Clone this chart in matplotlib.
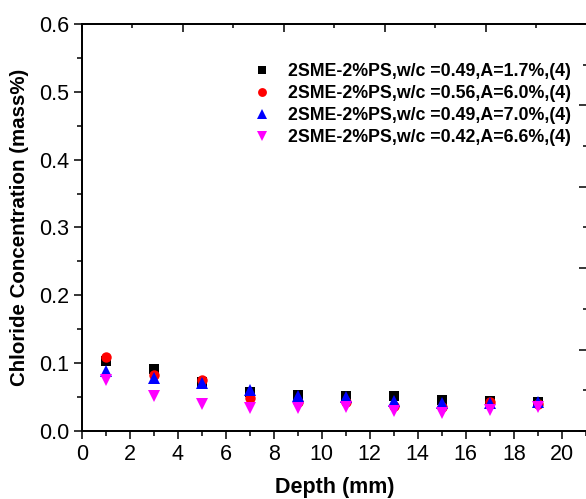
import matplotlib
matplotlib.use("Agg")
import matplotlib.pyplot as plt
from matplotlib.ticker import MultipleLocator, NullFormatter

plt.rcParams['font.family'] = ['Liberation Sans', 'DejaVu Sans']

depth = [1, 3, 5, 7, 9, 11, 13, 15, 17, 19]
s1 = [0.103, 0.092, 0.072, 0.057, 0.053, 0.051, 0.051, 0.046, 0.044, 0.043]
s2 = [0.109, 0.083, 0.075, 0.049, 0.043, 0.043, 0.037, 0.036, 0.043, 0.040]
s3 = [0.089, 0.078, 0.071, 0.060, 0.052, 0.050, 0.044, 0.041, 0.042, 0.043]
s4 = [0.075, 0.052, 0.040, 0.034, 0.034, 0.036, 0.030, 0.027, 0.031, 0.035]
labels = ["2SME-2%PS,w/c =0.49,A=1.7%,(4)",
          "2SME-2%PS,w/c =0.56,A=6.0%,(4)",
          "2SME-2%PS,w/c =0.49,A=7.0%,(4)",
          "2SME-2%PS,w/c =0.42,A=6.6%,(4)"]
series = [s1, s2, s3, s4]
markers = ['s', 'o', '^', 'v']
colors = ['#000000', '#ff0000', '#0000ff', '#ff00ff']
sizes = [7.5, 7.5, 8.5, 8.5]

W, H = 586, 499
fig = plt.figure(figsize=(W / 100, H / 100), dpi=100)
left, right, bottom, top = 81.7, 587.0, 431.0, 24.0
ax = fig.add_axes([left / W, (H - bottom) / H, (right - left) / W, (bottom - top) / H])

for ys, m, c, ms, lab in zip(series, markers, colors, sizes, labels):
    ax.plot(depth, ys, linestyle='none', marker=m, color=c, markersize=ms,
            markeredgewidth=0, label=lab)

ax.set_xlim(0, 21.05)
ax.set_ylim(0, 0.6)
ax.xaxis.set_major_locator(MultipleLocator(2))
ax.xaxis.set_minor_locator(MultipleLocator(1))
ax.yaxis.set_major_locator(MultipleLocator(0.1))
ax.yaxis.set_minor_locator(MultipleLocator(0.05))
ax.yaxis.set_major_formatter(plt.FuncFormatter(lambda v, p: f"{v:.1f}"))
ax.tick_params(which='major', direction='out', length=6, width=1.1, labelsize=15.5, pad=3)
ax.tick_params(which='minor', direction='out', length=3.5, width=1.1)
ax.tick_params(top=False, right=False)
for sp in ax.spines.values():
    sp.set_linewidth(1.1)

ax.set_xlabel("Depth (mm)", fontsize=15.5, fontweight='bold', labelpad=9)
ax.set_ylabel("Chloride Concentration (mass%)", fontsize=14.8, fontweight='bold', labelpad=7)

# secondary (empty) right and top axes as in the original
ax2 = ax.twinx()
ax2.set_ylim(0, 5)
ax2.yaxis.set_major_locator(MultipleLocator(1))
ax2.yaxis.set_minor_locator(MultipleLocator(0.5))
ax2.yaxis.set_major_formatter(NullFormatter())
ax2.tick_params(which='major', direction='in', length=5.5, width=1.1)
ax2.tick_params(which='minor', direction='in', length=3, width=1.1)
ax3 = ax.twiny()
ax3.set_xlim(0, 5)
ax3.xaxis.set_major_locator(MultipleLocator(1))
ax3.xaxis.set_minor_locator(MultipleLocator(0.5))
ax3.xaxis.set_major_formatter(NullFormatter())
ax3.tick_params(which='major', direction='in', length=5.5, width=1.1)
ax3.tick_params(which='minor', direction='in', length=3, width=1.1)
for a in (ax2, ax3):
    for sp in a.spines.values():
        sp.set_linewidth(1.1)

ax.legend(loc='upper left', bbox_to_anchor=((253 - left) / (right - left), (bottom - 63) / (bottom - top)),
          frameon=False, prop={'weight': 'bold', 'size': 12.8}, handlelength=1.0,
          handletextpad=0.95, labelspacing=0.29, borderpad=0, borderaxespad=0, markerscale=0.85)

fig.savefig("out.png", dpi=100)
